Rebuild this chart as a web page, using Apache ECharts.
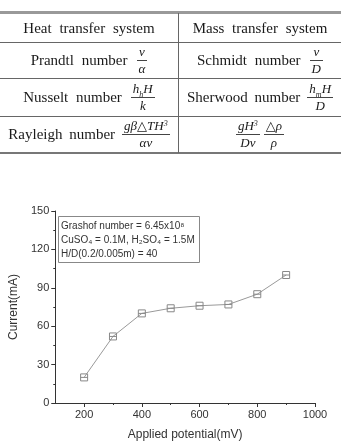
<!DOCTYPE html>
<html>
<head>
<meta charset="utf-8">
<script src="https://cdn.jsdelivr.net/npm/echarts@6/dist/echarts.min.js"></script>
<style>
  html, body { margin: 0; padding: 0; background: #fff; }
  #wrap { position: relative; width: 341px; height: 443px; overflow: hidden; }
  #chart { position: absolute; left: 0; top: 0; width: 341px; height: 443px; }
  .ln { position: absolute; background: #666; }
  .cell { position: absolute; display: flex; align-items: center; justify-content: center;
          font-family: 'Liberation Serif', 'DejaVu Serif', serif; font-size: 15px; color: #1a1a1a;
          word-spacing: 4px; white-space: nowrap; }
  .fr { display: inline-flex; flex-direction: column; align-items: center; margin-left: 9px;
        font-style: italic; font-size: 13px; line-height: 14px; word-spacing: 0; }
  .fr .n { padding: 0 2px 1px 2px; }
  .fr .d { border-top: 1px solid #444; padding: 1px 2px 0 2px; align-self: stretch; text-align: center; }
  .fr sub { font-size: 8px; line-height: 0; }
  .fr sup { font-size: 8px; line-height: 0; vertical-align: 4px; }
</style>
</head>
<body>
<div id="wrap">
  <div id="chart"></div>

  <!-- table rules -->
  <div class="ln" style="left:0;top:11px;width:341px;height:3px;background:#999"></div>
  <div class="ln" style="left:0;top:42px;width:341px;height:1px"></div>
  <div class="ln" style="left:0;top:78px;width:341px;height:1px"></div>
  <div class="ln" style="left:0;top:116px;width:341px;height:1px"></div>
  <div class="ln" style="left:0;top:152px;width:341px;height:2px;background:#777"></div>
  <div class="ln" style="left:178px;top:13px;width:1px;height:140px"></div>

  <!-- header row -->
  <div class="cell" style="left:0;top:14px;width:178px;height:28px">Heat transfer system</div>
  <div class="cell" style="left:179px;top:14px;width:162px;height:28px">Mass transfer system</div>

  <!-- Prandtl / Schmidt -->
  <div class="cell" style="left:0;top:43px;width:178px;height:35px">Prandtl number
    <span class="fr"><span class="n">ν</span><span class="d">α</span></span></div>
  <div class="cell" style="left:179px;top:43px;width:162px;height:35px">Schmidt number
    <span class="fr"><span class="n">ν</span><span class="d">D</span></span></div>

  <!-- Nusselt / Sherwood -->
  <div class="cell" style="left:0;top:79px;width:178px;height:37px">Nusselt number
    <span class="fr"><span class="n">h<sub>h</sub>H</span><span class="d">k</span></span></div>
  <div class="cell" style="left:179px;top:79px;width:162px;height:37px;word-spacing:3px">Sherwood number
    <span class="fr" style="margin-left:7px"><span class="n">h<sub>m</sub>H</span><span class="d">D</span></span></div>

  <!-- Rayleigh -->
  <div class="cell" style="left:0;top:117px;width:178px;height:35px;word-spacing:3px">Rayleigh number
    <span class="fr" style="margin-left:7px"><span class="n">gβ△TH<sup>3</sup></span><span class="d">αν</span></span></div>
  <div class="cell" style="left:179px;top:117px;width:162px;height:35px">
    <span class="fr" style="margin-left:0"><span class="n">gH<sup>3</sup></span><span class="d">Dν</span></span>
    <span class="fr" style="margin-left:4px"><span class="n">△ρ</span><span class="d">ρ</span></span></div>
</div>

<script>
// applied potential (mV) and measured current (mA)
var potential = [200, 300, 400, 500, 600, 700, 800, 900];
var current = [20, 52, 70, 74, 76, 77, 85, 100];

var xMajorTicks = [200, 400, 600, 800, 1000];
var xMinorTicks = [300, 500, 700, 900];
var infoLines = [
  'Grashof number = 6.45x10⁸',
  'CuSO₄ = 0.1M, H₂SO₄ = 1.5M',
  'H/D(0.2/0.005m) = 40'
];

var chart = echarts.init(document.getElementById('chart'));

var pts = [];
for (var i = 0; i < potential.length; i++) {
  pts.push([potential[i], current[i]]);
}

var axisCol = '#333';
var option = {
  animation: false,
  grid: { left: 53, right: 26, top: 211, bottom: 40 },
  xAxis: [
    {
      type: 'value', min: 100, max: 1000,
      name: 'Applied potential(mV)', nameLocation: 'middle', nameGap: 26,
      nameTextStyle: { fontFamily: 'Liberation Sans, Arial', fontSize: 12, color: '#333' },
      axisLine: { show: true, lineStyle: { color: axisCol, width: 1 } },
      axisTick: { show: true, length: 4, customValues: xMajorTicks, lineStyle: { color: axisCol } },
      axisLabel: {
        customValues: xMajorTicks, fontFamily: 'Liberation Sans, Arial', fontSize: 11, color: '#333', margin: 6,
        formatter: function (v) { return String(v); }
      },
      splitLine: { show: false }
    },
    {
      type: 'value', min: 100, max: 1000, position: 'bottom',
      axisLine: { show: false },
      axisTick: { show: true, length: 2, customValues: xMinorTicks, lineStyle: { color: axisCol } },
      axisLabel: { show: false },
      splitLine: { show: false }
    }
  ],
  yAxis: {
    type: 'value', min: 0, max: 150, interval: 30,
    name: 'Current(mA)', nameLocation: 'middle', nameGap: 30,
    nameTextStyle: { fontFamily: 'Liberation Sans, Arial', fontSize: 12, color: '#333' },
    axisLine: { show: true, lineStyle: { color: axisCol, width: 1 } },
    axisTick: { show: true, length: 4, lineStyle: { color: axisCol } },
    minorTick: { show: true, splitNumber: 2, length: 2, lineStyle: { color: axisCol } },
    axisLabel: { fontFamily: 'Liberation Sans, Arial', fontSize: 11, color: '#333', margin: 6 },
    splitLine: { show: false }
  },
  graphic: [
    {
      type: 'rect', left: 58, top: 216,
      shape: { width: 141, height: 46 },
      style: { fill: '#fff', stroke: '#888', lineWidth: 1 }
    },
    {
      type: 'text', left: 61, top: 219,
      style: {
        text: infoLines.join('\n'),
        font: '10px "Liberation Sans", Arial',
        fill: '#333', lineHeight: 14
      }
    }
  ],
  series: [
    {
      type: 'line',
      data: pts,
      symbol: 'path://M0,0H10V10H0Z M0,5H10',
      symbolSize: 7,
      lineStyle: { color: '#999', width: 1 },
      itemStyle: { color: 'rgba(255,255,255,0)', borderColor: '#888', borderWidth: 1 }
    }
  ]
};

chart.setOption(option);
</script>
</body>
</html>
